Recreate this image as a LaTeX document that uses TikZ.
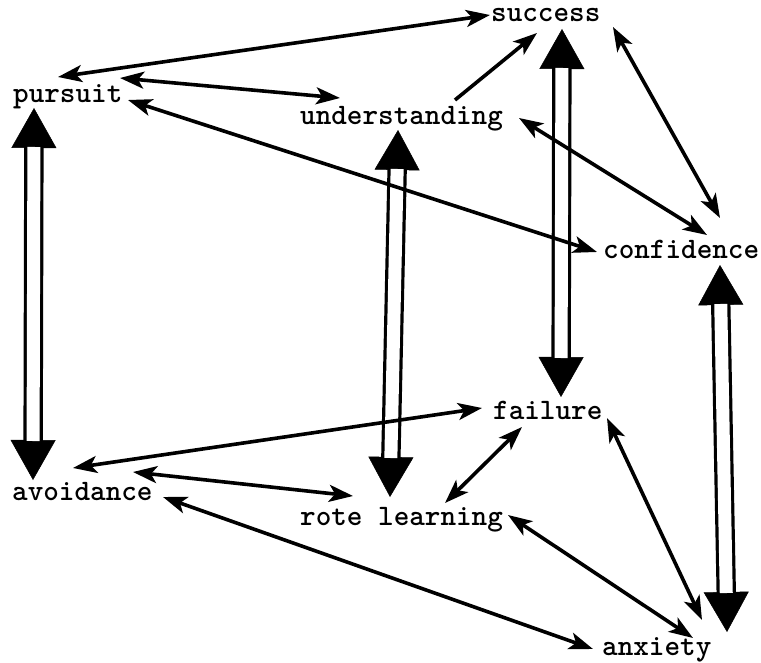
\documentclass[tikz,border=0pt]{standalone}
\usepackage{fontspec}
\usetikzlibrary{arrows.meta}
\tikzset{
  term/.style={inner sep=0pt, anchor=base west, font=\ttfamily\bfseries\fontsize{29.7}{32}\selectfont},
  tip/.style={Stealth[length=24pt,width=17pt,inset=6pt]},
  link/.style={line width=3.6pt, {Stealth[length=24pt,width=17pt,inset=6pt]}-{Stealth[length=24pt,width=17pt,inset=6pt]}},
  onelink/.style={line width=3.6pt, -{Stealth[length=24pt,width=17pt,inset=6pt]}},
  opptips/.style={line width=0.5pt, {Triangle[length=40pt,width=45pt]}-{Triangle[length=40pt,width=45pt]}},
  oppshaft/.style={line width=3.2pt, double=white, double distance=13pt, shorten <=39pt, shorten >=39pt},
}
% draws a pair of opposed terms: two heavy heads joined by a hollow double shaft
\newcommand{\opposed}[2]{%
  \draw[opptips] #1 -- #2;
  \draw[oppshaft] #1 -- #2;}
\begin{document}
\begin{tikzpicture}[x=1pt, y=-1pt]
\useasboundingbox (0,0) rectangle (761,663);

% terms
\node[term] (success)    at (491,22)  {success};
\node[term] (pursuit)    at (13,103)  {pursuit};
\node[term] (understand) at (300,125) {understanding};
\node[term] (confidence) at (603,259) {confidence};
\node[term] (failure)    at (493,419) {failure};
\node[term] (avoidance)  at (12,500)  {avoidance};
\node[term] (rote)       at (300,525) {rote learning};
\node[term] (anxiety)    at (602,655) {anxiety};

% opposed pairs
\opposed{([shift={(21,5)}]pursuit.base west)}{([shift={(21,-20)}]avoidance.base west)}
\opposed{([shift={(71,7)}]success.base west)}{([shift={(68,-22)}]failure.base west)}
\opposed{([shift={(98,5)}]understand.base west)}{([shift={(90,-28)}]rote.base west)}
\opposed{([shift={(117,6)}]confidence.base west)}{([shift={(125,-23)}]anxiety.base west)}

% associations
\draw[link] ([shift={(45,-26)}]pursuit.base west) -- ([shift={(-1,-7)}]success.base west);
\draw[link] ([shift={(107,-25)}]pursuit.base west) -- ([shift={(40,-27)}]understand.base west);
\draw[link] ([shift={(115,-3)}]pursuit.base west) -- ([shift={(-6,-7)}]confidence.base west);
\draw[onelink] ([shift={(155,-25)}]understand.base west) -- ([shift={(46,11)}]success.base west);
\draw[link] ([shift={(122,5)}]success.base west) -- ([shift={(117,-41)}]confidence.base west);
\draw[link] ([shift={(219,-7)}]understand.base west) -- ([shift={(104,-24)}]confidence.base west);
\draw[link] ([shift={(61,-32)}]avoidance.base west) -- ([shift={(-11,-11)}]failure.base west);
\draw[link] ([shift={(121,-28)}]avoidance.base west) -- ([shift={(53,-29)}]rote.base west);
\draw[link] ([shift={(151,-3)}]avoidance.base west) -- ([shift={(-9,-6)}]anxiety.base west);
\draw[link] ([shift={(29,8)}]failure.base west) -- ([shift={(145,-22)}]rote.base west);
\draw[link] ([shift={(208,-10)}]rote.base west) -- ([shift={(91,-17)}]anxiety.base west);
\draw[link] ([shift={(114,-1)}]failure.base west) -- ([shift={(100,-35)}]anxiety.base west);
\end{tikzpicture}
\end{document}
